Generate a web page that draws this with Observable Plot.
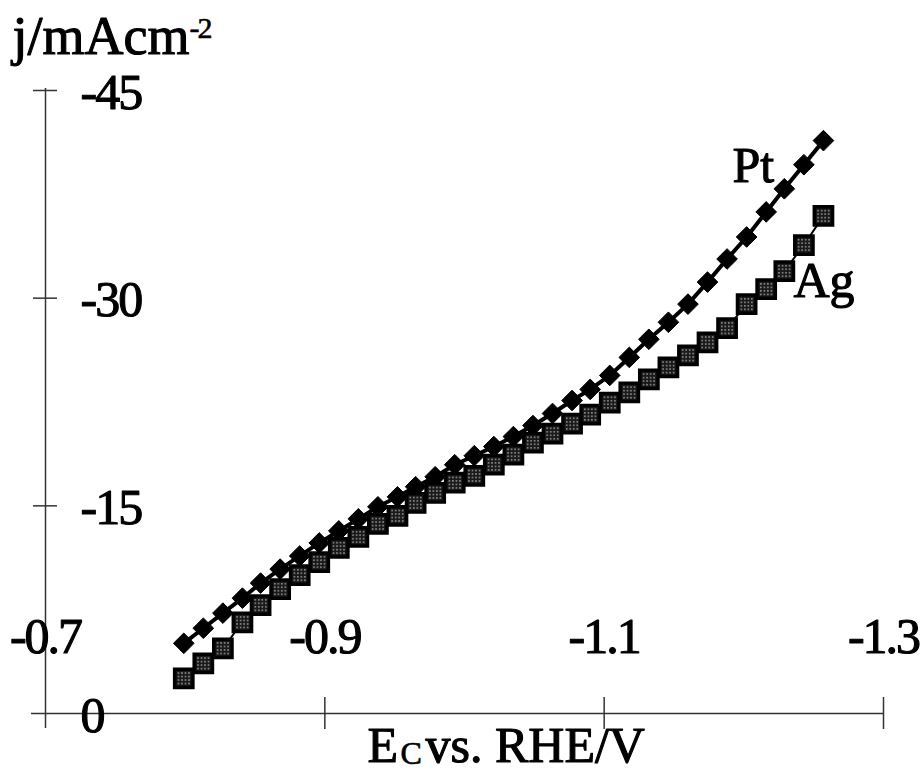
<!DOCTYPE html>
<html>
<head>
<meta charset="utf-8">
<script src="https://cdn.jsdelivr.net/npm/d3@7"></script>
<script src="https://cdn.jsdelivr.net/npm/@observablehq/plot@0.6"></script>
<style>
  html, body { margin: 0; padding: 0; background: #fff; }
  svg { display: block; }
</style>
</head>
<body>
<div id="chart"></div>
<script>
// Electrode potential E_C vs. RHE / V
const potentials = [-0.799, -0.813, -0.827, -0.841, -0.854, -0.868, -0.882, -0.896, -0.910, -0.924,
  -0.938, -0.952, -0.965, -0.979, -0.993, -1.007, -1.021, -1.035, -1.049, -1.063,
  -1.077, -1.090, -1.104, -1.118, -1.132, -1.146, -1.160, -1.174, -1.188, -1.202,
  -1.216, -1.229, -1.243, -1.257];
// Current density j / mA cm^-2
const ptCurrent = [-5.07, -6.16, -7.25, -8.33, -9.42, -10.43, -11.38, -12.32, -13.19, -14.06,
  -14.93, -15.65, -16.38, -17.10, -17.97, -18.62, -19.28, -20.00, -20.80, -21.67,
  -22.61, -23.41, -24.42, -25.72, -27.03, -28.26, -29.57, -31.16, -32.83, -34.42,
  -36.23, -37.90, -39.64, -41.38];
const agCurrent = [-2.54, -3.62, -4.71, -6.59, -7.83, -8.99, -10.00, -10.94, -11.96, -12.75,
  -13.70, -14.28, -15.22, -15.94, -16.67, -17.17, -17.97, -18.70, -19.57, -20.22,
  -20.94, -21.59, -22.46, -23.19, -24.13, -25.00, -25.87, -26.81, -27.83, -29.57,
  -30.65, -31.96, -33.84, -35.94];

const seriesNames = ["Pt", "Ag"];
const xTicks = [-0.7, -0.9, -1.1, -1.3];
const xTickLabels = ["-0.7", "-0.9", "-1.1", "-1.3"];
const yTicks = [0, -15, -30, -45];
const yTickLabels = ["0", "-15", "-30", "-45"];
const yTitle = "j/mAcm";
const yTitleSup = "-2";
const xTitleMain = "E";
const xTitleSub = "C";
const xTitleRest = "vs. RHE/V";

const pt = potentials.map((e, i) => ({e, j: ptCurrent[i], s: seriesNames[0]}));
const ag = potentials.map((e, i) => ({e, j: agCurrent[i], s: seriesNames[1]}));

const font = "'Liberation Serif', 'DejaVu Serif', serif";
const axisStroke = "#333";
// slightly heavier text, like the scanned original
const ink = {fill: "black", stroke: "black", strokeWidth: 1.1};

const chart = Plot.plot({
  width: 924,
  height: 772,
  marginLeft: 45,
  marginRight: 41,
  marginTop: 90,
  marginBottom: 59,
  x: {domain: [-0.7, -1.3], axis: null},
  y: {domain: [0, -45], axis: null},
  style: {fontFamily: font, background: "white", color: "black"},
  marks: [
    // axis lines
    Plot.ruleY([0], {stroke: axisStroke, strokeWidth: 1.5, insetLeft: -14}),
    Plot.ruleX([xTicks[0]], {stroke: axisStroke, strokeWidth: 1.5, insetTop: -2, insetBottom: -15}),
    // crossing tick marks
    Plot.ruleX(xTicks.slice(1), {y1: () => 0, y2: () => 0, insetTop: -16, insetBottom: -16, stroke: axisStroke, strokeWidth: 1.5}),
    Plot.ruleY(yTicks.slice(1), {x1: () => xTicks[0], x2: () => xTicks[0], insetLeft: -12, insetRight: -12, stroke: axisStroke, strokeWidth: 1.5}),
    // tick labels
    Plot.text(xTicks, {x: d => d, y: () => 0, text: (d, i) => xTickLabels[i], dy: -77, fontSize: 50, textAnchor: "middle", lineAnchor: "middle", ...ink}),
    Plot.text(yTicks, {x: () => xTicks[0], y: d => d, text: (d, i) => yTickLabels[i], dx: 35, dy: 2, fontSize: 50, textAnchor: "start", lineAnchor: "middle", ...ink}),
    // axis titles
    Plot.text([yTitle], {frameAnchor: "top-left", text: d => d, dx: -33, dy: -37, fontSize: 54, textAnchor: "start", lineAnchor: "bottom", ...ink}),
    Plot.text([yTitleSup], {frameAnchor: "top-left", text: d => d, dx: 144, dy: -53, fontSize: 30, textAnchor: "start", lineAnchor: "bottom", ...ink, strokeWidth: 0.6}),
    Plot.text([xTitleMain], {frameAnchor: "bottom-left", text: d => d, dx: 322, dy: 48, fontSize: 50, textAnchor: "start", lineAnchor: "bottom", ...ink}),
    Plot.text([xTitleSub], {frameAnchor: "bottom-left", text: d => d, dx: 355, dy: 50, fontSize: 32, textAnchor: "start", lineAnchor: "bottom", ...ink, strokeWidth: 0.7}),
    Plot.text([xTitleRest], {frameAnchor: "bottom-left", text: d => d, dx: 380, dy: 48, fontSize: 50, textAnchor: "start", lineAnchor: "bottom", ...ink}),
    // Pt series
    Plot.line(pt, {x: "e", y: "j", stroke: "black", strokeWidth: 4}),
    Plot.dot(pt, {x: "e", y: "j", symbol: "diamond2", r: 9.3, fill: "black", stroke: "black", strokeWidth: 1}),
    // Ag series
    Plot.line(ag, {x: "e", y: "j", stroke: "black", strokeWidth: 2}),
    Plot.dot(ag, {x: "e", y: "j", symbol: "square", r: 10.3, fill: "url(#agStipple)", stroke: "black", strokeWidth: 3.5}),
    // series labels at the last point of each series
    Plot.text(pt.slice(-1), {x: "e", y: "j", text: "s", dx: -91, dy: 41, fontSize: 50, textAnchor: "start", lineAnchor: "bottom", ...ink}),
    Plot.text(ag.slice(-1), {x: "e", y: "j", text: "s", dx: -30, dy: 81, fontSize: 50, textAnchor: "start", lineAnchor: "bottom", ...ink})
  ]
});

// stipple pattern for the Ag squares
const svg = d3.select(chart);
const pat = svg.insert("defs", ":first-child").append("pattern")
  .attr("id", "agStipple").attr("width", 3.5).attr("height", 3.5)
  .attr("patternUnits", "userSpaceOnUse");
pat.append("rect").attr("width", 3.5).attr("height", 3.5).attr("fill", "#1a1a1a");
pat.append("rect").attr("x", 1).attr("y", 1).attr("width", 1.4).attr("height", 1.4).attr("fill", "#b0b0b0");

// tight numeral spacing like the original typesetting
svg.selectAll("text").each(function () {
  const t = this.textContent;
  if (/^-?[\d.]+$/.test(t)) this.setAttribute("letter-spacing", "-2");
});

document.getElementById("chart").appendChild(chart);
</script>
</body>
</html>
